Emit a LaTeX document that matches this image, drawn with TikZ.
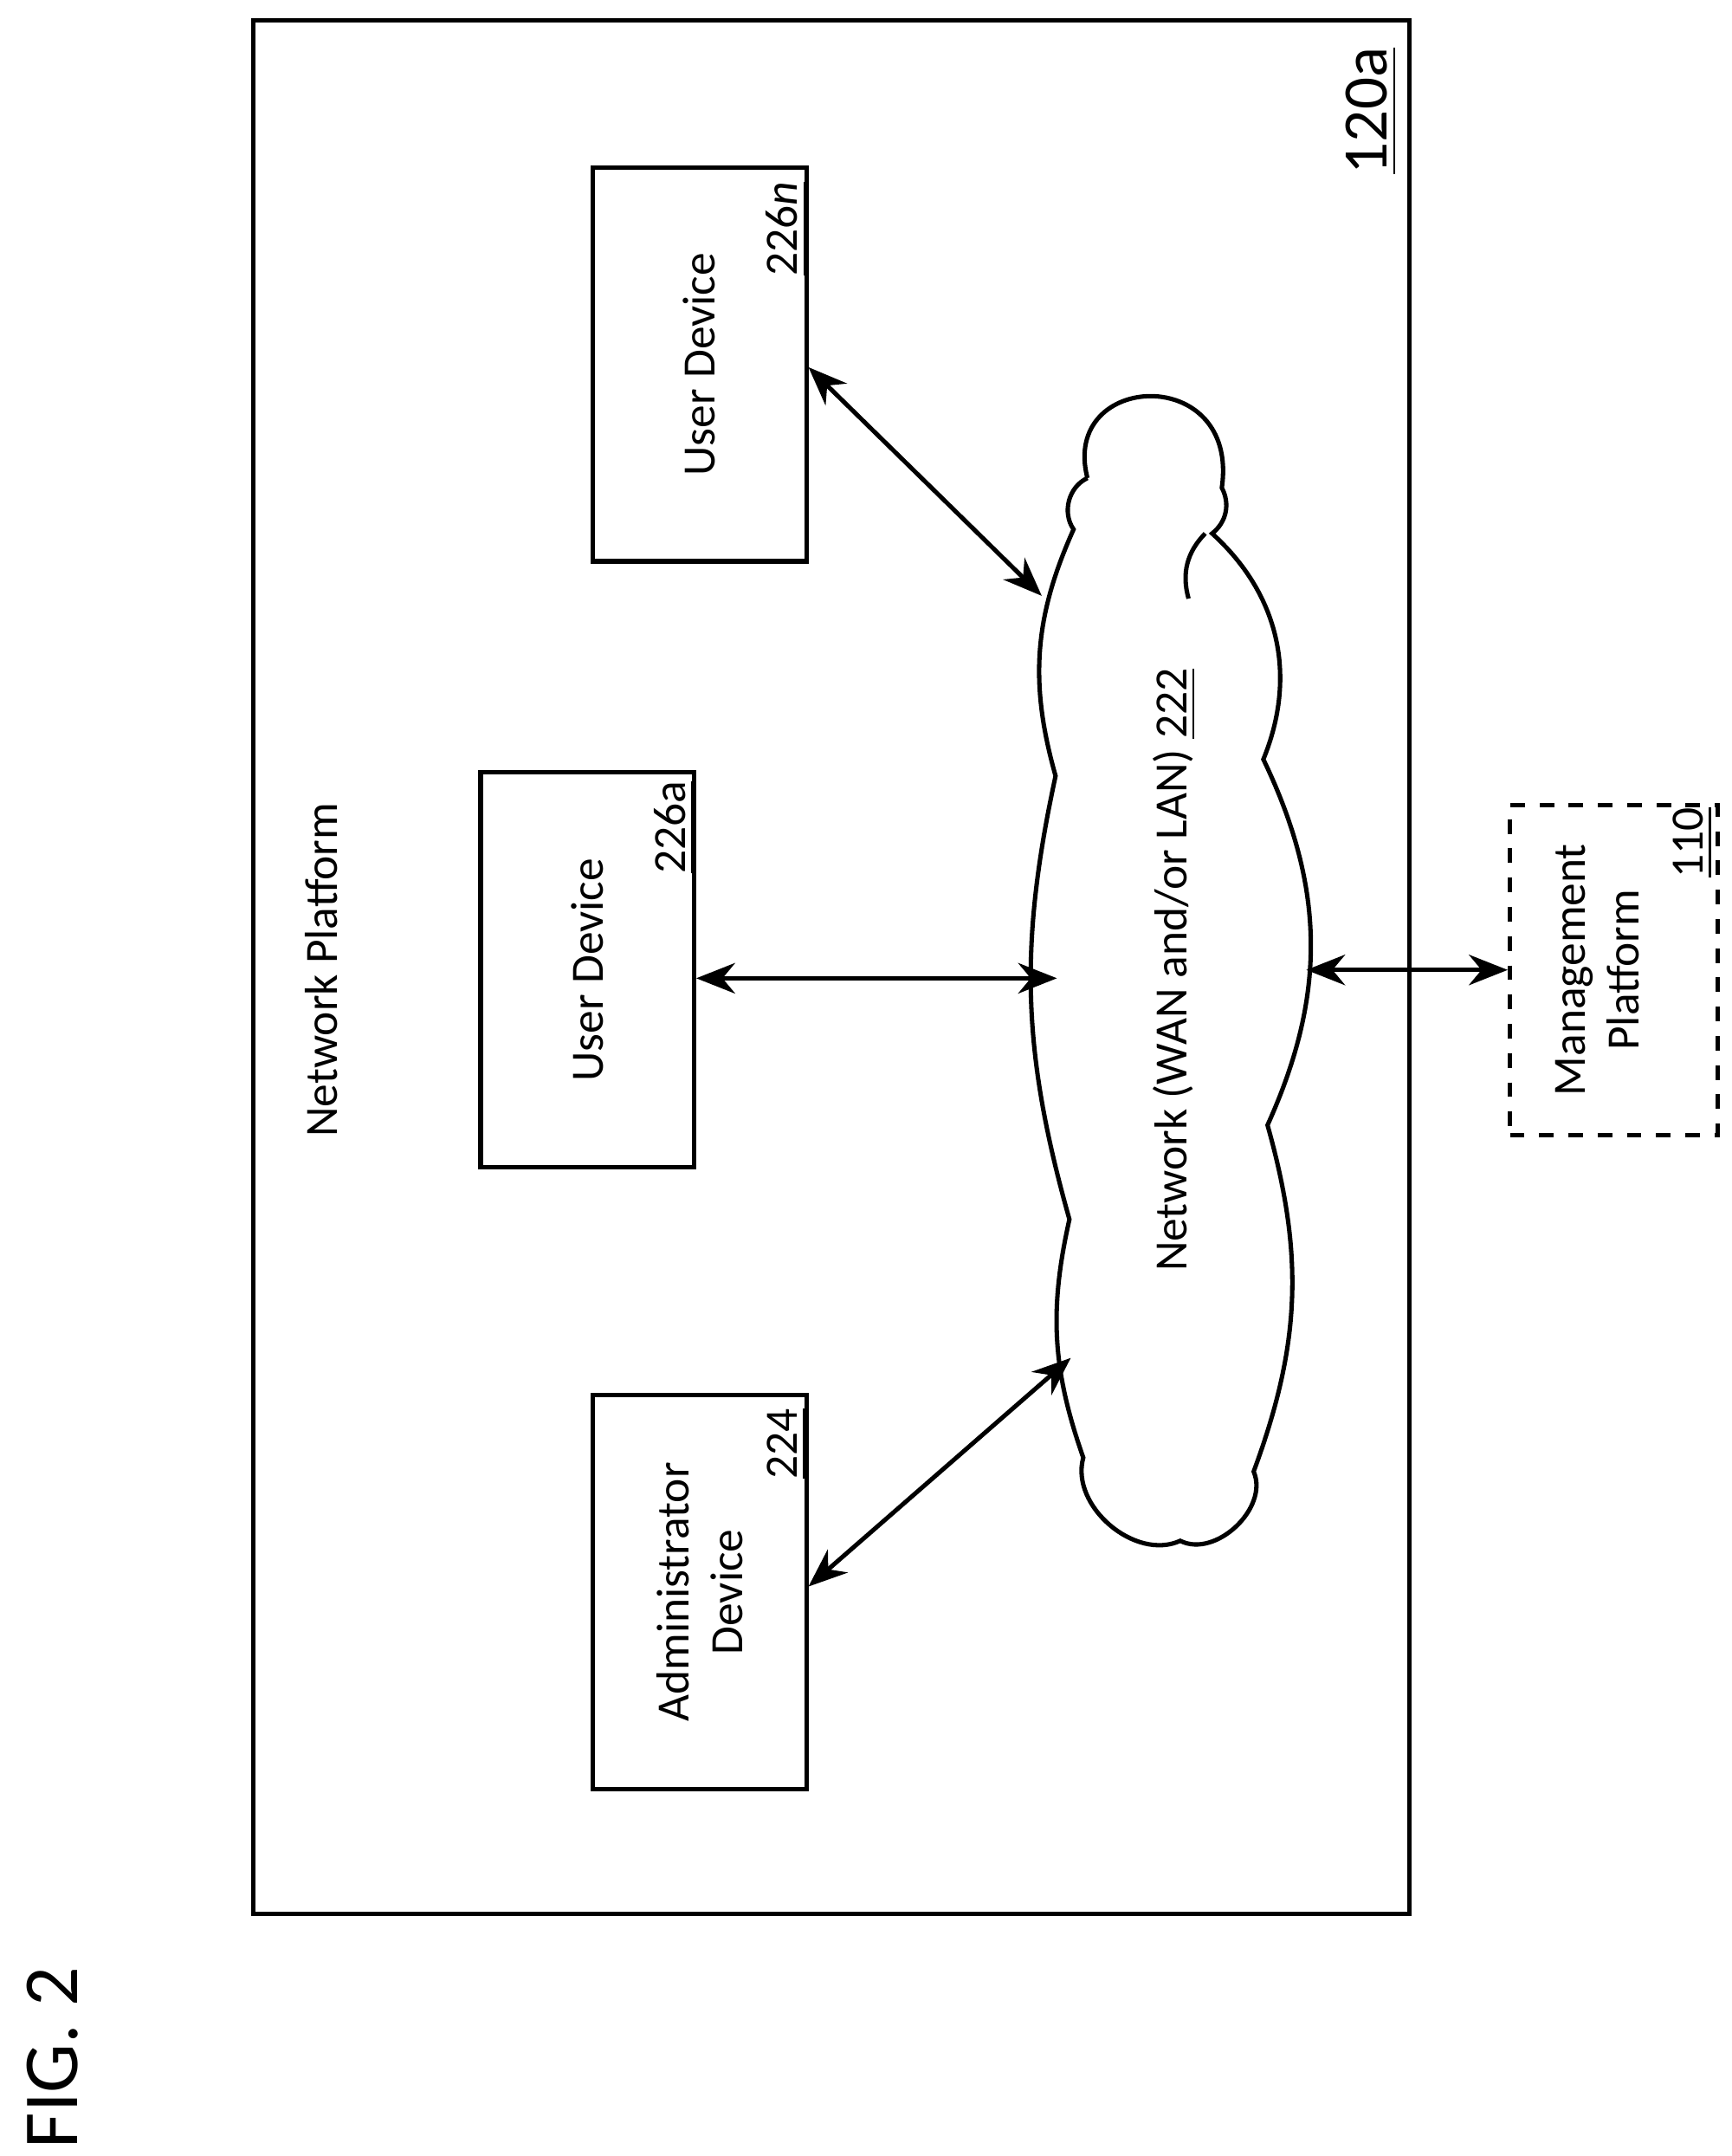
\documentclass[tikz,border=0pt]{standalone}
\usepackage{fontspec}
\setmainfont{Carlito}
\usetikzlibrary{arrows.meta, positioning}
\tikzstyle{device} = [rectangle, draw = black, line width = 0.9pt, minimum width = 1.54cm, inner sep = 0pt]
\tikzstyle{lbl} = [rotate = 90, font = \fontsize{9.5}{11}\selectfont, align = center]
\tikzstyle{conn} = [{Stealth[length=0.28cm,width=0.22cm]}-{Stealth[length=0.28cm,width=0.22cm]}, line width = 0.9pt]

\begin{document}
\begin{tikzpicture}[x=0.01cm, y=-0.01cm]
	\useasboundingbox (0,0) rectangle (1250,1556);
	\node (platform)[draw, line width = 0.9pt, minimum width = 8.34cm, minimum height = 13.66cm] at (600,698) {};
	\node (title)[lbl] at (232,700) {Network Platform};
	\node (ref)[lbl, font = \fontsize{13}{15}\selectfont] at (990,80) {\underline{120a}};
	\node (fig)[lbl, font = \fontsize{16}{18}\selectfont] at (38,1485) {FIG. 2};
	
	\node (usern)[device, minimum height = 2.84cm] at (505,263) {};
	\node [lbl] at (505,263) {User Device};
	\node [lbl] at (568,165) {\underline{226\textit{n}}};
	\node (usera)[device, minimum height = 2.85cm] at (424,700) {};
	\node [lbl] at (424,700) {User Device};
	\node [lbl] at (487,597) {\underline{226a}};
	\node (admin)[device, minimum height = 2.84cm] at (505,1149) {};
	\node [lbl] at (505,1149) {Administrator\\Device};
	\node [lbl] at (568,1042) {\underline{224}};
	\node (mgmt)[device, dashed, minimum width = 1.5cm, minimum height = 2.38cm] at (1165,700) {};
	\node [lbl] at (1153,700) {Management\\Platform};
	\node [lbl] at (1222,608) {\underline{110}};
	
	% cloud
	\draw [line width = 0.9pt] (785,345) .. controls (765,268) and (895,262) .. (882,352) to[bend left = 40] (875,385)
		to[bend left = 35] (912,548) to[bend left = 25] (915,812) to[bend left = 18] (905,1062)
		to[bend left = 70] (852,1112) to[bend left = 65] (782,1052) to[bend left = 16] (772,880)
		to[bend left = 14] (762,560) to[bend left = 20] (775,382) to[bend left = 50] (785,345);
	\draw [line width = 0.9pt] (858,432) to[bend left = 30] (870,385);
	\node (net)[lbl] at (848,700) {Network (WAN and/or LAN) \underline{222}};
	\coordinate (cn) at (752,430);
	\coordinate (ca) at (763,706);
	\coordinate (cd) at (773,980);
	\coordinate (cm) at (943,700);
	
	\draw [conn] (usern.east |- 0,265) -- (cn);
	\draw [conn] (usera.east |- ca) -- (ca);
	\draw [conn] (admin.east |- 0,1145) -- (cd);
	\draw [conn] (cm) -- (mgmt.west |- cm);
\end{tikzpicture}
\end{document}
